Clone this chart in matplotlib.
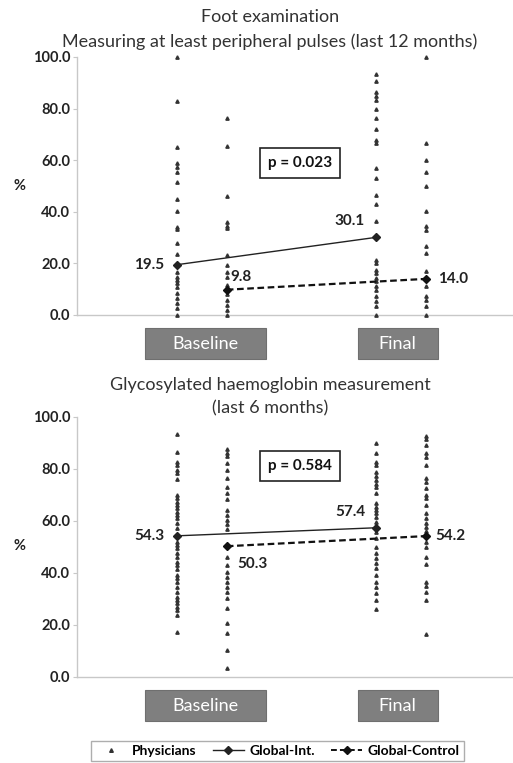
import matplotlib
matplotlib.use("Agg")
import matplotlib.pyplot as plt
from matplotlib.lines import Line2D
from matplotlib.patches import Rectangle

plt.rcParams['font.family'] = ['Lato', 'DejaVu Sans']

# ---------------- data ----------------
periods = ["Baseline", "Final"]
titles_top = ["Foot examination", "Measuring at least peripheral pulses (last 12 months)"]
titles_bottom = ["Glycosylated haemoglobin measurement", "(last 6 months)"]
p_values = ["p = 0.023", "p = 0.584"]
yticks = [0, 20, 40, 60, 80, 100]

# Panel 1: foot examination, physician-level %
foot_base_int = [100, 83.1, 65.2, 58.8, 57.2, 55.6, 51.7, 44.8, 40.4, 34.2, 33.2, 27.8,
                 23.5, 16.8, 14.9, 13.6, 12.3, 10.7, 8.4, 6.5, 4.5, 2.6, 0]
foot_base_ctl = [76.5, 65.5, 46.3, 35.9, 34.6, 33.7, 23.3, 19.5, 16.8, 14.9, 11.5,
                 8.0, 6.0, 4.0, 2.0, 0]
foot_final_int = [93.5, 90.6, 86.3, 84.8, 83.2, 79.8, 76.4, 72.1, 68.0, 66.7, 57.0, 53.1,
                  46.6, 43.2, 36.3, 21.4, 20.2, 17.6, 16.3, 14.3, 13.0, 11.1, 9.6, 7.2,
                  5.3, 3.4, 0]
foot_final_ctl = [100, 66.7, 60.0, 55.4, 49.9, 40.2, 34.4, 33.1, 26.6, 24.0, 16.9,
                  11.1, 7.2, 5.9, 3.4, 0]
foot_global_int = [19.5, 30.1]
foot_global_ctl = [9.8, 14.0]

# Panel 2: HbA1c measurement, physician-level %
hba_base_int = [93.5, 86.7, 82.8, 81.5, 79.6, 78.3, 76.0, 70.0, 68.7, 67.4, 66.2, 64.9,
                63.6, 62.3, 61.0, 59.1, 57.2, 52.0, 50.8, 49.5, 47.8, 46.3, 44.3, 43.1,
                41.4, 39.2, 37.9, 36.7, 34.7, 32.8, 30.9, 29.6, 28.3, 27.0, 25.6, 23.8, 17.4]
hba_base_ctl = [87.6, 86.3, 85.0, 82.4, 79.6, 76.4, 73.2, 70.7, 68.3, 64.2, 62.3, 60.4,
                58.8, 56.8, 46.3, 43.1, 40.5, 38.6, 36.7, 34.7, 32.8, 30.3, 26.4, 20.7,
                17.0, 10.4, 3.3]
hba_final_int = [89.9, 86.3, 82.8, 81.5, 79.0, 77.3, 75.8, 74.2, 73.0, 70.7, 66.8, 65.5,
                 64.2, 63.0, 61.7, 59.7, 55.9, 53.3, 50.1, 47.6, 45.6, 43.7, 41.8, 39.2,
                 36.7, 34.7, 32.4, 29.6, 26.0]
hba_final_ctl = [92.7, 91.4, 89.2, 86.3, 84.7, 81.5, 76.4, 75.1, 72.6, 70.0, 68.7, 66.2,
                 63.2, 61.0, 59.3, 57.8, 56.3, 52.0, 50.1, 46.3, 43.6, 36.7, 35.0, 32.8,
                 29.6, 16.5]
hba_global_int = [54.3, 57.4]
hba_global_ctl = [50.3, 54.2]

# ---------------- layout ----------------
W, H = 513, 763
fig = plt.figure(figsize=(W / 100, H / 100), dpi=100)

col_x = [0, 1, 4, 5]      # base-int, base-ctl, final-int, final-ctl
xlim = (-2.01, 6.75)

def px_axes(top, bottom, left=77, right=513):
    return fig.add_axes([left / W, 1 - bottom / H, (right - left) / W, (bottom - top) / H])

ax1 = px_axes(57, 315)
ax2 = px_axes(417, 677)

panels = [
    (ax1, [foot_base_int, foot_base_ctl, foot_final_int, foot_final_ctl],
     foot_global_int, foot_global_ctl, p_values[0], (300, 163),
     [(-13, 0, 'right'), (4, 13, 'left'), (-11, 16, 'right'), (12, 0, 'left')]),
    (ax2, [hba_base_int, hba_base_ctl, hba_final_int, hba_final_ctl],
     hba_global_int, hba_global_ctl, p_values[1], (300, 466),
     [(-13, 0, 'right'), (10, -18, 'left'), (-11, 16, 'right'), (9, 0, 'left')]),
]

dot_color = '#333333'
for ax, cols, g_int, g_ctl, ptxt, pbox, offs in panels:
    ax.set_xlim(*xlim)
    ax.set_ylim(0, 100)
    for xi, vals in zip(col_x, cols):
        ax.plot([xi] * len(vals), vals, linestyle='none', marker='^', ms=2.4,
                color=dot_color, mec=dot_color, zorder=3, clip_on=False)
    ax.plot([col_x[0], col_x[2]], g_int, '-', color='#222222', lw=1.0, marker='D',
            ms=4.5, zorder=4, clip_on=False)
    ax.plot([col_x[1], col_x[3]], g_ctl, '--', color='#111111', lw=1.6, marker='D',
            ms=4.5, dashes=(3, 1.6), zorder=4, clip_on=False)
    pts = [(col_x[0], g_int[0]), (col_x[1], g_ctl[0]), (col_x[2], g_int[1]), (col_x[3], g_ctl[1])]
    for (x, y), (dx, dy, ha) in zip(pts, offs):
        ax.annotate(f"{y:.1f}", (x, y), xytext=(dx, dy), textcoords='offset pixels',
                    ha=ha, va='center', fontsize=11, fontweight='bold', color='#222222')
    # spines / ticks
    for s in ['top', 'right']:
        ax.spines[s].set_visible(False)
    for s in ['left', 'bottom']:
        ax.spines[s].set_color('#c8c8c8')
        ax.spines[s].set_linewidth(1.0)
    ax.set_yticks(yticks)
    ax.set_yticklabels([f"{t:.1f}" for t in yticks], fontsize=10.5, fontweight='bold',
                       color='#222222')
    ax.tick_params(axis='y', length=3, color='#c8c8c8', pad=2)
    ax.set_xticks([])
    # period boxes
    for (x0, x1), lab in zip([(-0.64, 1.79), (3.63, 5.24)], periods):
        ax.add_patch(Rectangle((x0, -0.171), x1 - x0, 0.121, transform=ax.get_xaxis_transform(),
                               facecolor='#7f7f7f', edgecolor='#6f6f6f', lw=0.8, clip_on=False))
        ax.text((x0 + x1) / 2, -0.111, lab, transform=ax.get_xaxis_transform(),
                ha='center', va='center', color='white', fontsize=13)
    # p-value box
    fig.text(pbox[0] / W, 1 - pbox[1] / H, ptxt, ha='center', va='center', fontsize=11,
             fontweight='bold', color='#111111',
             bbox=dict(boxstyle='square,pad=0.55', facecolor='white', edgecolor='#222222', lw=1.2))

# y labels "%"
fig.text(20 / W, 1 - 186 / H, "%", ha='center', va='center', fontsize=10.5, fontweight='bold',
         color='#222222')
fig.text(20 / W, 1 - 546 / H, "%", ha='center', va='center', fontsize=10.5, fontweight='bold',
         color='#222222')

# titles
for txt, y in zip(titles_top, [17, 42]):
    fig.text(270 / W, 1 - y / H, txt, ha='center', va='center', fontsize=13, color='#333333')
for txt, y in zip(titles_bottom, [385, 408]):
    fig.text(270 / W, 1 - y / H, txt, ha='center', va='center', fontsize=13, color='#333333')

# legend
handles = [
    Line2D([], [], linestyle='none', marker='^', ms=2.6, color=dot_color),
    Line2D([], [], linestyle='-', color='#222222', lw=1.0, marker='D', ms=4),
    Line2D([], [], linestyle='--', color='#111111', lw=1.4, marker='D', ms=4, dashes=(3, 1.6)),
]
leg = fig.legend(handles, ["Physicians", "Global-Int.", "Global-Control"], ncol=3,
                 loc='upper center', bbox_to_anchor=(277.5 / W, 1 - 741 / H),
                 frameon=True, fancybox=False, edgecolor='#9a9a9a', borderaxespad=0,
                 prop={'weight': 'bold', 'size': 10}, handlelength=2.2, handletextpad=0.4,
                 columnspacing=1.2, borderpad=0.3)
leg.get_frame().set_linewidth(1.0)

fig.savefig("out.png", dpi=100)
